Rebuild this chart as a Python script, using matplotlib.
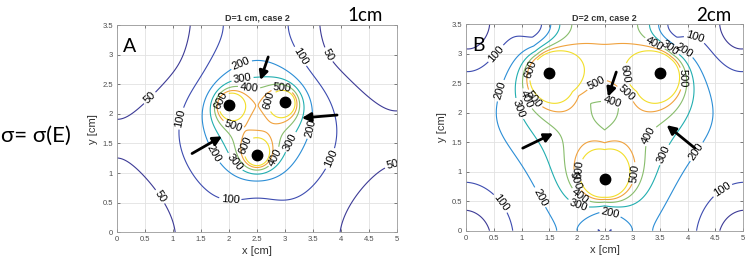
import numpy as np
import matplotlib
matplotlib.use("Agg")
import matplotlib.pyplot as plt

# domain of the simulation [cm]
width_cm, height_cm = 5.0, 3.5

# electrode centres, 1 cm and 2 cm spacing
elec_x_1cm = [2.0, 3.0, 2.5]
elec_y_1cm = [2.15, 2.2, 1.3]
elec_x_2cm = [1.5, 3.5, 2.5]
elec_y_2cm = [2.68, 2.68, 0.88]

levels = [50, 100, 200, 300, 400, 500, 600]
level_colors = ['#3d3b96', '#3d4cb0', '#2c8ed6', '#22aeb0', '#88bd6c', '#f0a23e', '#f2de2a']

# field model per panel: kernel power, pair combination, scale, exponent
# (fitted to contour crossings)
model_1cm = dict(p=2.0, m=4, amp=116.24, gam=0.9624)
model_2cm = dict(p=2.2, m=np.inf, amp=171.73, gam=1.0864)

# arrows: (tail_x, tail_y, head_x, head_y)
arrows_1cm = [(2.70, 2.96, 2.56, 2.57), (3.93, 1.98, 3.30, 1.93), (1.34, 1.33, 1.875, 1.62)]
arrows_2cm = [(2.71, 2.69, 2.56, 2.27), (1.02, 1.40, 1.57, 1.65), (4.13, 1.40, 3.62, 1.79)]

# contour label spots
labels_1cm = {
    50: [(0.5, 2.35), (0.72, 0.57), (3.87, 3.05), (4.84, 1.45)],
    100: [(1.0, 1.95), (2.02, 0.52), (3.31, 2.99), (3.87, 1.22)],
    200: [(2.2, 2.88), (3.5, 1.75), (1.63, 1.28)],
    300: [(2.23, 2.66), (3.15, 1.5), (2.11, 1.19)],
    400: [(2.38, 2.56), (2.86, 1.25)],
    500: [(2.02, 1.64), (2.95, 2.43)],
    600: [(1.84, 2.23), (2.68, 2.23), (2.2, 1.5)],
}
labels_2cm = {
    100: [(0.39, 3.12), (4.16, 3.37), (0.46, 0.35), (4.67, 0.63)],
    200: [(0.6, 2.38), (1.3, 0.55), (2.56, 0.18), (4.16, 1.34), (3.95, 3.08)],
    300: [(0.9, 2.05), (2.0, 0.38), (3.59, 1.28), (3.7, 3.13)],
    400: [(1.03, 2.21), (2.62, 2.1), (2.05, 0.58), (3.35, 1.59), (3.41, 3.18)],
    500: [(1.2, 2.21), (2.26, 2.64), (2.89, 2.33), (3.86, 2.58), (3.07, 0.97), (1.92, 0.83)],
    600: [(1.22, 2.72), (3.07, 2.69), (2.05, 1.03)],
}


def pair_fields(X, Y, ex, ey, p, soft=0.03):
    # field of each electrode pair (+/-) with mirror images at the insulating edges
    out = []
    for i in range(3):
        for j in range(i + 1, 3):
            fx = np.zeros_like(X)
            fy = np.zeros_like(X)
            for k, sgn in ((i, 1.0), (j, -1.0)):
                for ix in (ex[k], -ex[k], 2 * width_cm - ex[k]):
                    for iy in (ey[k], -ey[k], 2 * height_cm - ey[k]):
                        dx = X - ix
                        dy = Y - iy
                        r2 = (dx * dx + dy * dy + soft ** 2) ** (p / 2)
                        fx += sgn * dx / r2
                        fy += sgn * dy / r2
            out.append(np.hypot(fx, fy))
    return np.array(out)


def combine(F, m):
    if np.isinf(m):
        return F.max(axis=0)
    return (F ** m).sum(axis=0) ** (1.0 / m)


xg = np.linspace(0, width_cm, 301)
yg = np.linspace(0, height_cm, 211)
X, Y = np.meshgrid(xg, yg)

panels = [
    dict(ex=elec_x_1cm, ey=elec_y_1cm, model=model_1cm,
         arrows=arrows_1cm, labels=labels_1cm, title='D=1 cm, case 2', letter='A',
         rect=[117 / 746, 1 - 232.3 / 263, 280 / 746, 207.3 / 263]),
    dict(ex=elec_x_2cm, ey=elec_y_2cm, model=model_2cm,
         arrows=arrows_2cm, labels=labels_2cm, title='D=2 cm, case 2', letter='B',
         rect=[466.3 / 746, 1 - 230.7 / 263, 276.7 / 746, 206.4 / 263]),
]

plt.rcParams['font.family'] = ['Liberation Sans', 'DejaVu Sans']
fig = plt.figure(figsize=(7.46, 2.63), dpi=100)

for p in panels:
    ax = fig.add_axes(p['rect'])
    md = p['model']
    Z = md['amp'] * combine(pair_fields(X, Y, p['ex'], p['ey'], md['p']), md['m']) ** md['gam']
    for lev, col in zip(levels, level_colors):
        if Z.min() >= lev or Z.max() <= lev:
            continue
        cs = ax.contour(X, Y, Z, levels=[lev], colors=[col], linewidths=0.8)
        spots = p['labels'].get(lev, [])
        if spots:
            ax.clabel(cs, manual=spots, fmt='%d', fontsize=8, colors='k',
                      inline=True, inline_spacing=2)
    ax.plot(p['ex'], p['ey'], 'o', color='k', ms=7.5, zorder=5)
    for tx, ty, hx, hy in p['arrows']:
        ax.annotate('', xy=(hx, hy), xytext=(tx, ty),
                    arrowprops=dict(arrowstyle='-|>', color='k', lw=2.0, mutation_scale=13,
                                    shrinkA=0, shrinkB=0), zorder=6)
    ax.set_xlim(0, width_cm)
    ax.set_ylim(0, height_cm)
    ax.set_xticks(np.arange(0, 5.01, 0.5))
    ax.set_yticks(np.arange(0, 3.51, 0.5))
    ax.set_xticklabels(['%g' % v for v in np.arange(0, 5.01, 0.5)])
    ax.set_yticklabels(['%g' % v for v in np.arange(0, 3.51, 0.5)])
    ax.tick_params(labelsize=5.5, colors='#4d4d4d', direction='in', length=2.5, width=0.5,
                   top=True, right=True, pad=3)
    ax.grid(True, color='#e2e2e2', lw=0.6)
    ax.set_axisbelow(True)
    for s in ax.spines.values():
        s.set_color('#9a9a9a')
        s.set_linewidth(0.6)
    ax.set_xlabel('x [cm]', fontsize=8, color='#333333', labelpad=2)
    ax.set_ylabel('y [cm]', fontsize=8, color='#333333', labelpad=3)
    ax.set_title(p['title'], fontsize=6.5, fontweight='bold', color='#333333', pad=3)
    ax.text(0.1, 3.05, p['letter'], fontsize=14, family=['Lato', 'DejaVu Sans'], zorder=7)

fig.text(347 / 746, 1 - 21 / 263, '1cm', fontsize=13.5, family=['Lato', 'DejaVu Sans'])
fig.text(696 / 746, 1 - 21 / 263, '2cm', fontsize=13.5, family=['Lato', 'DejaVu Sans'])
fig.text(1 / 746, 1 - 136 / 263, 'σ= σ(E)', fontsize=16, va='center',
         family=['Lato', 'DejaVu Sans'])

fig.savefig('out.png', dpi=100)
